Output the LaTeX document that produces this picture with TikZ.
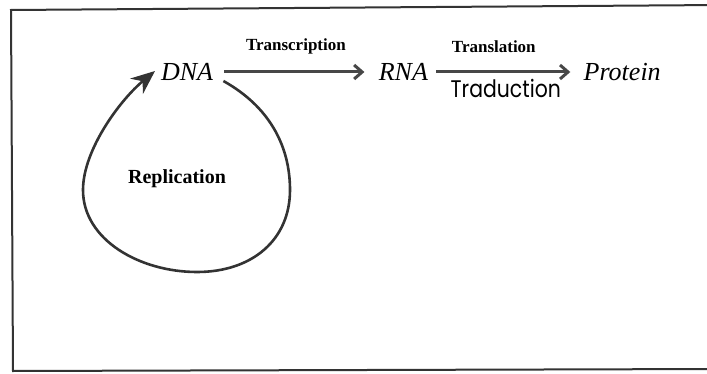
\documentclass[tikz,border=0pt]{standalone}
\usepackage{fontspec}
\setmainfont{Liberation Serif}
\newfontfamily\handfont{Poppins}
\usetikzlibrary{positioning, arrows.meta}

\tikzset{
  mol/.style={inner sep=0pt, font=\fontsize{13}{15}\selectfont\itshape},
  proc/.style={inner sep=0pt, font=\fontsize{8.5}{10}\selectfont\bfseries},
  hand/.style={inner sep=0pt, xscale=0.85, font=\fontsize{12}{14}\selectfont\handfont},
  flow/.style={-{Straight Barb[length=4pt, width=7pt]}, line width=1.5pt, draw=black!72},
  cycle/.style={-{Stealth[length=12pt, width=10pt, inset=4pt]}, line width=1.3pt, draw=black!80},
}

\begin{document}
\begin{tikzpicture}[x=0.5pt, y=0.5pt]

  \useasboundingbox (0,0) rectangle (707,-374);
  \clip (0,0) rectangle (707,-374);

  % frame
  \draw[line width=1pt, black!80] (720,-5) -- (11,-10) -- (13,-371) -- (720,-369);

  \node[mol] (dna) at (187,-72) {DNA};
  \node[mol, right=82.5pt of dna] (rna) {RNA};
  \node[mol, right=77.5pt of rna] (prot) {Protein};
  \node[proc, font=\fontsize{10}{12}\selectfont\bfseries] (repl) at (177,-179) {Replication};

  \draw[flow, shorten <=5.5pt, shorten >=7pt] (dna) -- node[proc, above=8pt] {Transcription} (rna);
  \draw[flow, shorten <=4pt, shorten >=6.5pt] (rna) -- node[proc, above=9pt, xshift=-6pt] {Translation}
    node[hand, below=3pt] {Traduction} (prot);

  % replication loop
  \coordinate (r1) at (290,-190);
  \coordinate (r2) at (197,-272);
  \coordinate (r3) at (83,-190);
  \coordinate (tip) at (155,-71);
  \draw[cycle] ([xshift=5pt]dna.south east)
    .. controls +(45,-25) and +(0,45) .. (r1)
    .. controls +(0,-50) and +(55,0) .. (r2)
    .. controls +(-57,0) and +(0,-50) .. (r3)
    .. controls +(0,40) and (120,-100) .. (tip);

\end{tikzpicture}
\end{document}
